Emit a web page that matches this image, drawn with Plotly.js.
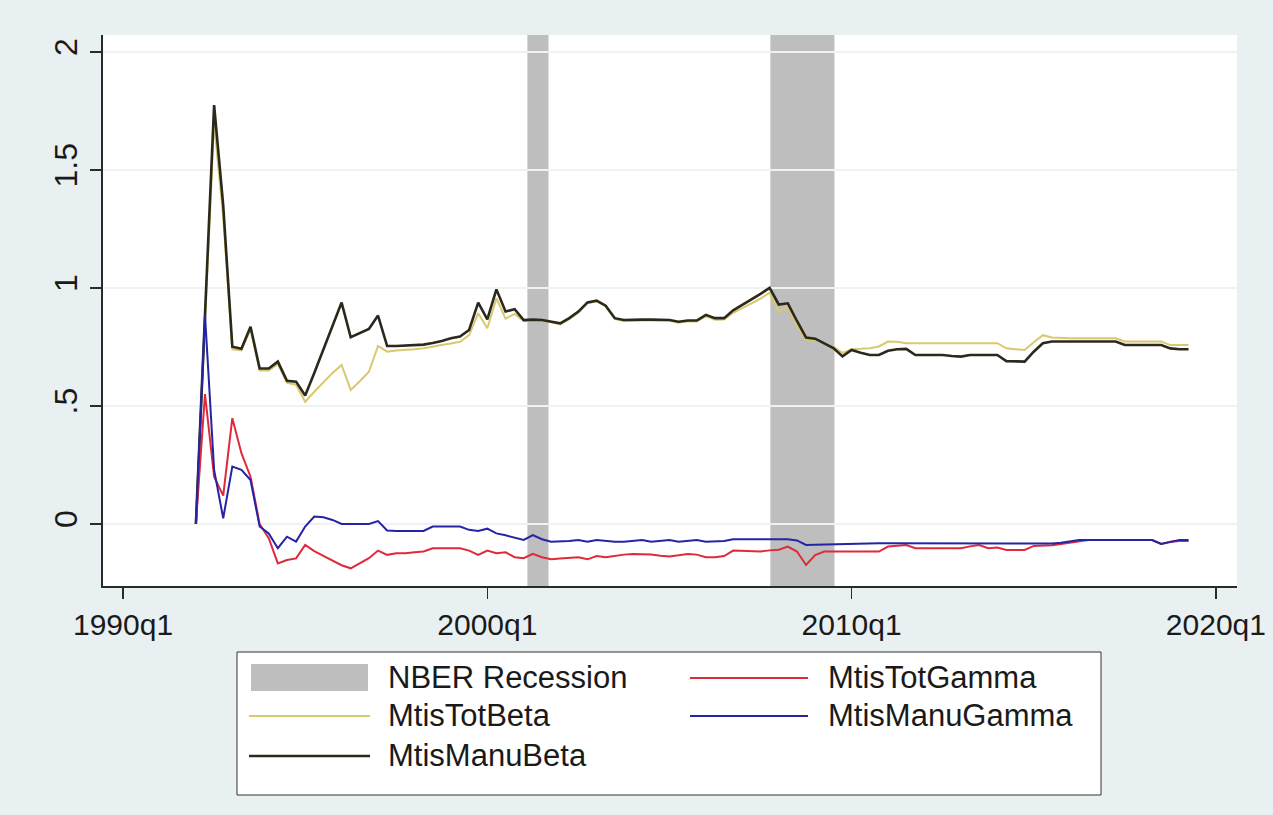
<!DOCTYPE html>
<html>
<head>
<meta charset="utf-8">
<script src="https://cdn.plot.ly/plotly-3.0.1.min.js"></script>
<style>
  html, body { margin: 0; padding: 0; background: #e9f0f2; }
  #chart { width: 1273px; height: 815px; }
</style>
</head>
<body>
<div id="chart"></div>
<script>
// ---- Data (quarterly, first observation 1992q1) ----
const firstYear = 1992;
const firstQuarter = 1;

const mtisTotBeta = [
  0, 0.85, 1.70, 1.30, 0.74, 0.735, 0.825, 0.65, 0.65, 0.678,
  0.598, 0.59, 0.518, 0.56, 0.60, 0.64, 0.674, 0.568, 0.605, 0.645,
  0.754, 0.73, 0.735, 0.737, 0.74, 0.745, 0.75, 0.758, 0.765, 0.772,
  0.80, 0.893, 0.829, 0.956, 0.87, 0.89, 0.86, 0.862, 0.862, 0.856,
  0.845, 0.868, 0.895, 0.935, 0.944, 0.922, 0.868, 0.86, 0.862, 0.862,
  0.862, 0.862, 0.862, 0.853, 0.858, 0.858, 0.88, 0.865, 0.866, 0.895,
  0.915, 0.935, 0.955, 0.98, 0.90, 0.92, 0.84, 0.78, 0.78, 0.765,
  0.75, 0.725, 0.74, 0.742, 0.745, 0.752, 0.773, 0.772, 0.766, 0.766,
  0.766, 0.766, 0.766, 0.766, 0.766, 0.766, 0.766, 0.766, 0.766, 0.744,
  0.74, 0.737, 0.77, 0.80, 0.79, 0.787, 0.787, 0.787, 0.787, 0.787,
  0.787, 0.787, 0.773, 0.773, 0.773, 0.773, 0.773, 0.758, 0.758, 0.758
];

const mtisManuBeta = [
  0, 0.88, 1.775, 1.35, 0.751, 0.742, 0.836, 0.659, 0.659, 0.688,
  0.607, 0.603, 0.544, 0.64, 0.74, 0.84, 0.938, 0.791, 0.81, 0.826,
  0.883, 0.754, 0.754, 0.755, 0.756, 0.76, 0.767, 0.775, 0.787, 0.794,
  0.822, 0.938, 0.867, 0.994, 0.90, 0.91, 0.864, 0.866, 0.864, 0.858,
  0.85, 0.872, 0.90, 0.939, 0.946, 0.925, 0.872, 0.864, 0.866, 0.866,
  0.866, 0.866, 0.864, 0.857, 0.862, 0.862, 0.886, 0.872, 0.872, 0.905,
  0.93, 0.952, 0.975, 1.0, 0.93, 0.935, 0.86, 0.79, 0.785, 0.765,
  0.745, 0.71, 0.737, 0.725, 0.716, 0.716, 0.734, 0.74, 0.742, 0.716,
  0.716, 0.716, 0.716, 0.712, 0.709, 0.716, 0.716, 0.716, 0.716, 0.69,
  0.688, 0.688, 0.73, 0.766, 0.773, 0.773, 0.773, 0.773, 0.773, 0.773,
  0.773, 0.773, 0.758, 0.758, 0.758, 0.758, 0.758, 0.744, 0.74, 0.74
];

const mtisTotGamma = [
  0, 0.55, 0.2, 0.12, 0.448, 0.3, 0.2, 0.0, -0.06, -0.167,
  -0.153, -0.146, -0.089, -0.115, -0.135, -0.155, -0.175, -0.188, -0.167, -0.145,
  -0.113, -0.131, -0.124, -0.124, -0.12, -0.117, -0.103, -0.103, -0.103, -0.103,
  -0.113, -0.131, -0.113, -0.124, -0.12, -0.141, -0.145, -0.127, -0.141, -0.150,
  -0.146, -0.145, -0.141, -0.150, -0.136, -0.141, -0.135, -0.13, -0.127, -0.127,
  -0.13, -0.135, -0.138, -0.133, -0.127, -0.13, -0.141, -0.141, -0.136, -0.113,
  -0.115, -0.117, -0.117, -0.112, -0.109, -0.096, -0.117, -0.174, -0.132, -0.117,
  -0.117, -0.117, -0.117, -0.117, -0.117, -0.117, -0.096, -0.092, -0.089, -0.103,
  -0.103, -0.103, -0.103, -0.103, -0.103, -0.095, -0.089, -0.103, -0.10, -0.110,
  -0.110, -0.110, -0.093, -0.093, -0.09, -0.085, -0.08, -0.072, -0.068, -0.068,
  -0.068, -0.068, -0.068, -0.068, -0.068, -0.068, -0.085, -0.075, -0.072, -0.072
];

const mtisManuGamma = [
  0, 0.886, 0.229, 0.024, 0.243, 0.229, 0.186, -0.011, -0.04, -0.103,
  -0.054, -0.075, -0.011, 0.031, 0.028, 0.017, 0.0, 0.0, 0.0, 0.0,
  0.012, -0.028, -0.03, -0.03, -0.03, -0.03, -0.011, -0.011, -0.011, -0.011,
  -0.025, -0.03, -0.02, -0.04, -0.048, -0.058, -0.068, -0.047, -0.065, -0.075,
  -0.075, -0.072, -0.068, -0.075, -0.068, -0.072, -0.075, -0.075, -0.072, -0.068,
  -0.075, -0.072, -0.068, -0.075, -0.072, -0.068, -0.075, -0.075, -0.072, -0.065,
  -0.065, -0.065, -0.065, -0.065, -0.065, -0.065, -0.07, -0.089, -0.088, -0.087,
  -0.087, -0.086, -0.082, -0.082, -0.082, -0.082, -0.082, -0.082, -0.082, -0.082,
  -0.082, -0.083, -0.083, -0.083, -0.084, -0.084, -0.084, -0.085, -0.085, -0.085,
  -0.085, -0.085, -0.085, -0.085, -0.083, -0.08, -0.075, -0.068, -0.068, -0.068,
  -0.068, -0.068, -0.068, -0.068, -0.068, -0.068, -0.085, -0.075, -0.068, -0.068
];

// NBER recession periods (decimal years)
const recessionStart = [2001.1, 2007.77];
const recessionEnd   = [2001.68, 2009.53];

// Axis ticks
const xTickVals = [1990, 2000, 2010, 2020];
const xTickText = ['1990q1', '2000q1', '2010q1', '2020q1'];
const yTickVals = [0, 0.5, 1, 1.5, 2];
const yTickText = ['0', '.5', '1', '1.5', '2'];

const seriesNames = ['MtisTotBeta', 'MtisManuBeta', 'MtisTotGamma', 'MtisManuGamma'];
const legendLabels = ['NBER Recession', 'MtisTotBeta', 'MtisManuBeta', 'MtisTotGamma', 'MtisManuGamma'];

// ---- Build ----
const xDates = mtisTotBeta.map((_, i) => firstYear + (firstQuarter - 1 + i) / 4);

const colors = {
  MtisTotBeta: '#d8c86e',
  MtisManuBeta: '#2b281c',
  MtisTotGamma: '#de2a3a',
  MtisManuGamma: '#2424a4'
};
const widths = { MtisTotBeta: 2, MtisManuBeta: 2.6, MtisTotGamma: 2, MtisManuGamma: 2 };
const values = {
  MtisTotBeta: mtisTotBeta, MtisManuBeta: mtisManuBeta,
  MtisTotGamma: mtisTotGamma, MtisManuGamma: mtisManuGamma
};

const traces = seriesNames.map(n => ({
  type: 'scatter', mode: 'lines', name: n, x: xDates, y: values[n],
  line: { color: colors[n], width: widths[n] }, showlegend: false, hoverinfo: 'skip'
}));

// plot area in pixels
const L = 103, R = 1237, T = 35, B = 586;
const px = x => (x - L) / (R - L);
const py = y => (B - y) / (B - T);

const shapes = [];
recessionStart.forEach((s, i) => {
  shapes.push({ type: 'rect', xref: 'x', yref: 'paper', x0: s, x1: recessionEnd[i], y0: 0, y1: 1,
    fillcolor: '#bebebe', line: { width: 0 }, layer: 'between' });
});
shapes.push({ type: 'line', xref: 'paper', yref: 'y', x0: 0, x1: 1, y0: 0, y1: 0,
  line: { color: '#000000', width: 2 }, layer: 'between' });

// legend (drawn with shapes and annotations)
shapes.push({ type: 'rect', xref: 'paper', yref: 'paper', x0: px(237), x1: px(1101), y0: py(795), y1: py(652),
  fillcolor: '#ffffff', line: { color: '#333333', width: 1 } });
shapes.push({ type: 'rect', xref: 'paper', yref: 'paper', x0: px(251), x1: px(368), y0: py(691), y1: py(664),
  fillcolor: '#bebebe', line: { width: 0 } });
const legendSlots = {
  MtisTotBeta:   { x0: 249, x1: 370, y: 716, tx: 386 },
  MtisManuBeta:  { x0: 249, x1: 370, y: 756, tx: 386 },
  MtisTotGamma:  { x0: 690, x1: 808, y: 678, tx: 826 },
  MtisManuGamma: { x0: 690, x1: 808, y: 716, tx: 826 }
};
const annotations = [];
annotations.push({ xref: 'paper', yref: 'paper', x: px(386), y: py(677), xanchor: 'left', yanchor: 'middle',
  text: legendLabels[0], showarrow: false, font: { size: 31, color: '#1a1a1a' } });
seriesNames.forEach(n => {
  const s = legendSlots[n];
  shapes.push({ type: 'line', xref: 'paper', yref: 'paper', x0: px(s.x0), x1: px(s.x1), y0: py(s.y), y1: py(s.y),
    line: { color: colors[n], width: widths[n] } });
  annotations.push({ xref: 'paper', yref: 'paper', x: px(s.tx), y: py(s.y - 1), xanchor: 'left', yanchor: 'middle',
    text: n, showarrow: false, font: { size: 31, color: '#1a1a1a' } });
});

const layout = {
  width: 1273, height: 815,
  paper_bgcolor: '#e9f0f2', plot_bgcolor: '#ffffff',
  margin: { l: L, r: 1273 - R, t: T, b: 815 - B, pad: 0 },
  font: { family: 'Liberation Sans, Arial, sans-serif', color: '#1a1a1a' },
  showlegend: false,
  xaxis: {
    range: [1989.45, 2020.58], tickvals: xTickVals, ticktext: xTickText,
    ticks: 'outside', ticklen: 11, tickwidth: 1.5, tickcolor: '#2a2a2a',
    showline: true, linecolor: '#2a2a2a', linewidth: 1.8,
    showgrid: false, zeroline: false, tickfont: { size: 30 }
  },
  yaxis: {
    range: [-0.263, 2.072], tickvals: yTickVals, ticktext: yTickText, tickangle: -90,
    ticks: 'outside', ticklen: 11, tickwidth: 1.5, tickcolor: '#2a2a2a',
    showline: true, linecolor: '#2a2a2a', linewidth: 1.8,
    showgrid: true, gridcolor: '#edf2f3', gridwidth: 1.5, zeroline: false,
    tickfont: { size: 32 }
  },
  shapes: shapes,
  annotations: annotations
};

Plotly.newPlot('chart', traces, layout, { displayModeBar: false, staticPlot: true });
</script>
</body>
</html>
